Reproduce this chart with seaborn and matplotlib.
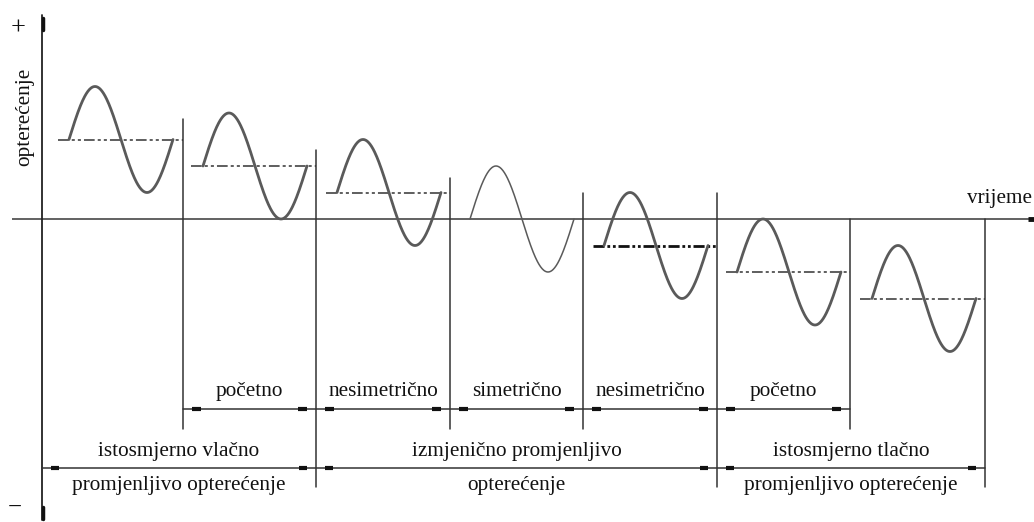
import numpy as np
import pandas as pd
import matplotlib
matplotlib.use("Agg")
import matplotlib.pyplot as plt
import seaborn as sns

# ---------------- data ----------------
# segment boundaries on the time axis (image px units along time), y-axis at t=42
axis_t = 42
separators = [183, 316, 450, 583, 717, 850, 985]
wave_start = [69, 203, 337, 470, 604, 737, 872]
wave_len = 104
mean_start = [58, 191, 326, None, 593, 726, 860]
# mean load level of each cycle (in units of the amplitude)
mean_levels = [1.5, 1.0, 0.5, 0.0, -0.5, -1.0, -1.5]
amplitudes = [1.0, 1.0, 1.0, 1.0, 1.0, 1.0, 1.0]

row1_labels = ["početno", "nesimetrično", "simetrično", "nesimetrično", "početno"]
row1_edges = [183, 316, 450, 583, 717, 850]
row2_labels = ["istosmjerno vlačno", "izmjenično promjenljivo", "istosmjerno tlačno"]
row3_labels = ["promjenljivo opterećenje", "opterećenje", "promjenljivo opterećenje"]
row2_edges = [42, 316, 717, 985]

sep_top_px = [119, 150, 178, 193, 193, 219, 219]
sep_bot_px = [429, 487, 429, 429, 487, 429, 487]

# ---------------- layout helpers ----------------
W, H = 1034, 522
Y0 = 219.0   # px of zero load
S = 53.0     # px per unit load


def py(p):
    return (Y0 - p) / S


sns.set_style("white")
plt.rcParams["font.family"] = ["Liberation Serif", "DejaVu Serif"]

fig = plt.figure(figsize=(W / 100, H / 100), dpi=100)
ax = fig.add_axes([0, 0, 1, 1])

axis_col = "#555555"
wave_col = "#5a5a5a"
txt_col = "#111111"
fs = 15.3

# axes
ax.plot([12, W], [0, 0], color=axis_col, lw=1.3, solid_capstyle="butt")
ax.plot([W - 6, W], [0, 0], color="#111111", lw=3.5, solid_capstyle="butt")
ax.plot([axis_t, axis_t], [py(15), py(520)], color="#222222", lw=1.3)
ax.plot([axis_t + 1, axis_t + 1], [py(18), py(30)], color="#111111", lw=2.5)
ax.plot([axis_t + 1, axis_t + 1], [py(507), py(519)], color="#111111", lw=2.5)

# separators
for x, t, b in zip(separators, sep_top_px, sep_bot_px):
    ax.plot([x, x], [py(t), py(b)], color="#333333", lw=1.1)

# mean (dash-dot-dot) lines
for i, (ms, lvl) in enumerate(zip(mean_start, mean_levels)):
    if ms is None:
        continue
    heavy = (i == 4)
    ax.plot([ms, separators[i]], [lvl, lvl],
            color="#111111" if heavy else "#333333",
            lw=2.0 if heavy else 1.1,
            dashes=(7, 2, 2, 2, 2, 2) if not heavy else (4, 1, 1, 1, 1, 1))

# sine waves via seaborn
rows = []
for i, (ws, lvl, amp) in enumerate(zip(wave_start, mean_levels, amplitudes)):
    ph = np.linspace(0, 2 * np.pi, 200)
    t = ws + wave_len * ph / (2 * np.pi)
    rows.append(pd.DataFrame({"t": t, "load": lvl + amp * np.sin(ph), "seg": i}))
df = pd.concat(rows, ignore_index=True)

sns.lineplot(data=df[df.seg != 3], x="t", y="load", units="seg", estimator=None,
             sort=False, color=wave_col, lw=2.0, ax=ax, legend=False)
sns.lineplot(data=df[df.seg == 3], x="t", y="load", units="seg", estimator=None,
             sort=False, color=wave_col, lw=1.1, ax=ax, legend=False)
ax.set_xlim(0, W)
ax.set_ylim(py(H), py(0))
ax.axis("off")

# dimension rows
ax.plot([row1_edges[0], row1_edges[-1]], [py(409), py(409)], color="#333333", lw=1.1)
ax.plot([row2_edges[0], row2_edges[-1]], [py(468), py(468)], color="#333333", lw=1.1)


def marks(edges, ypx, off_a=9, off_b=18):
    for a, b in zip(edges[:-1], edges[1:]):
        for x0, x1 in [(a + off_a, a + off_b), (b - off_b, b - off_a)]:
            ax.plot([x0, x1], [py(ypx), py(ypx)], color="#111111", lw=3.0,
                    solid_capstyle="butt")


marks(row1_edges, 409, 9, 18)
marks(row2_edges, 468, 9, 17)

for lab, a, b in zip(row1_labels, row1_edges[:-1], row1_edges[1:]):
    ax.text((a + b) / 2, py(396), lab, ha="center", va="baseline", fontsize=fs, color=txt_col)
for lab, a, b in zip(row2_labels, row2_edges[:-1], row2_edges[1:]):
    ax.text((a + b) / 2, py(456), lab, ha="center", va="baseline", fontsize=fs, color=txt_col)
for lab, a, b in zip(row3_labels, row2_edges[:-1], row2_edges[1:]):
    ax.text((a + b) / 2, py(490), lab, ha="center", va="baseline", fontsize=fs, color=txt_col)

ax.text(967, py(203), "vrijeme", ha="left", va="baseline", fontsize=fs, color=txt_col)
ax.text(25, py(117), "opterećenje", ha="center", va="center", rotation=90, fontsize=fs, color=txt_col)
ax.text(18, py(29), "+", ha="center", va="center", fontsize=19, color=txt_col)
ax.text(15, py(508), "−", ha="center", va="center", fontsize=18, color=txt_col)

fig.savefig("out.png", dpi=100)
